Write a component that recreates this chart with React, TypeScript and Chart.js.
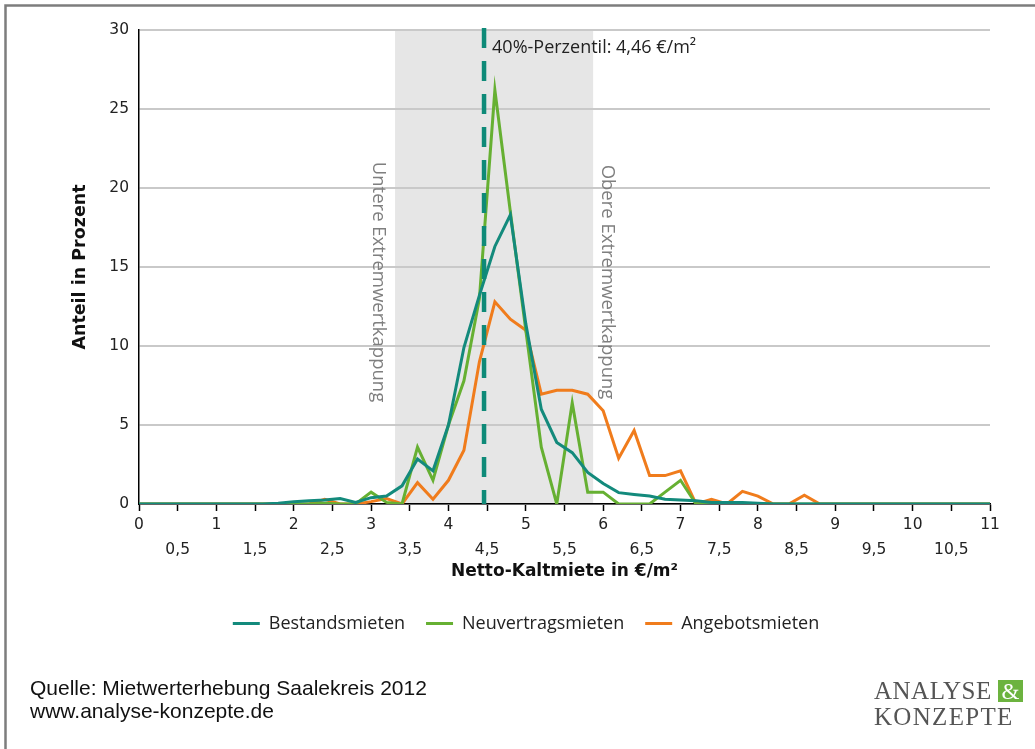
import React, { useEffect, useRef } from 'react';
import { Chart, registerables } from 'chart.js';

Chart.register(...registerables);

// Net cold rent in €/m² (bin positions)
const rentSteps = [
  0, 0.2, 0.4, 0.6, 0.8, 1, 1.2, 1.4, 1.6, 1.8,
  2, 2.2, 2.4, 2.6, 2.8, 3, 3.2, 3.4, 3.6, 3.8,
  4, 4.2, 4.4, 4.6, 4.8, 5, 5.2, 5.4, 5.6, 5.8,
  6, 6.2, 6.4, 6.6, 6.8, 7, 7.2, 7.4, 7.6, 7.8,
  8, 8.2, 8.4, 8.6, 8.8, 9, 9.2, 9.4, 9.6, 9.8,
  10, 10.2, 10.4, 10.6, 10.8, 11,
];

const bestandsmieten = [
  0, 0, 0, 0, 0, 0, 0, 0, 0, 0.05,
  0.15, 0.2, 0.25, 0.35, 0.1, 0.4, 0.5, 1.15, 2.85, 2.1,
  5.0, 9.9, 13.2, 16.3, 18.3, 11.4, 6.0, 3.9, 3.25, 2.0,
  1.3, 0.72, 0.6, 0.5, 0.3, 0.25, 0.2, 0.1, 0.1, 0.1,
  0.05, 0, 0, 0, 0, 0, 0, 0, 0, 0,
  0, 0, 0, 0, 0, 0,
];

const neuvertragsmieten = [
  0, 0, 0, 0, 0, 0, 0, 0, 0, 0,
  0, 0, 0.05, 0, 0, 0.75, 0.1, 0, 3.6, 1.5,
  5.0, 7.8, 13.0, 26.2, 18.5, 11.0, 3.6, 0, 6.4, 0.75,
  0.75, 0, 0, 0, 0.75, 1.5, 0, 0, 0, 0,
  0, 0, 0, 0, 0, 0, 0, 0, 0, 0,
  0, 0, 0, 0, 0, 0,
];

const angebotsmieten = [
  0, 0, 0, 0, 0, 0, 0, 0, 0, 0,
  0, 0, 0.3, 0, 0, 0.15, 0.35, 0, 1.35, 0.3,
  1.5, 3.4, 9.0, 12.8, 11.7, 11.0, 6.95, 7.2, 7.2, 6.95,
  5.9, 2.9, 4.65, 1.8, 1.8, 2.1, 0, 0.3, 0, 0.8,
  0.5, 0, 0, 0.55, 0, 0, 0, 0, 0, 0,
  0, 0, 0, 0, 0, 0,
];

const seriesNames = ['Bestandsmieten', 'Neuvertragsmieten', 'Angebotsmieten'];
const seriesColors = ['#138a7c', '#66b032', '#f07c1c'];

const extremeBand = [3.31, 5.87];
const percentile40 = 4.46;
const percentileLabel = '40%-Perzentil: 4,46 €/m²';
const lowerLabel = 'Untere Extremwertkappung';
const upperLabel = 'Obere Extremwertkappung';

const xRange = [0, 11];
const xStep = 0.5;
const yRange = [0, 30];
const yStep = 5;

const xTitle = 'Netto-Kaltmiete in €/m²';
const yTitle = 'Anteil in Prozent';
const sourceLines = ['Quelle: Mietwerterhebung Saalekreis 2012', 'www.analyse-konzepte.de'];

const decorPlugin = {
  id: 'decor',
  beforeDraw(chart: any) {
    const { ctx, chartArea, scales } = chart;
    const x = scales.x;
    const l = x.getPixelForValue(extremeBand[0]);
    const r = x.getPixelForValue(extremeBand[1]);
    ctx.save();
    ctx.fillStyle = '#e6e6e6';
    ctx.fillRect(l, chartArea.top, r - l, chartArea.bottom - chartArea.top);
    ctx.restore();
  },
  beforeDatasetsDraw(chart: any) {
    const { ctx, chartArea, scales } = chart;
    const x = scales.x;
    const l = x.getPixelForValue(extremeBand[0]);
    const r = x.getPixelForValue(extremeBand[1]);
    const cy = chartArea.top + 252;
    ctx.save();
    ctx.fillStyle = '#7f7f7f';
    ctx.font = '18.5px "Open Sans"';
    ctx.textAlign = 'center';
    ctx.textBaseline = 'middle';
    ctx.translate(l - 17, cy);
    ctx.rotate(Math.PI / 2);
    ctx.fillText(lowerLabel, 0, 0);
    ctx.restore();
    ctx.save();
    ctx.fillStyle = '#7f7f7f';
    ctx.font = '18.5px "Open Sans"';
    ctx.textAlign = 'center';
    ctx.textBaseline = 'middle';
    ctx.translate(r + 14, cy);
    ctx.rotate(Math.PI / 2);
    ctx.fillText(upperLabel, 0, 0);
    ctx.restore();
  },
  afterDatasetsDraw(chart: any) {
    const { ctx, chartArea, scales } = chart;
    const px = scales.x.getPixelForValue(percentile40);
    ctx.save();
    ctx.strokeStyle = '#0e8a78';
    ctx.lineWidth = 4.5;
    ctx.setLineDash([20, 13]);
    ctx.beginPath();
    ctx.moveTo(px, chartArea.top - 2);
    ctx.lineTo(px, chartArea.bottom);
    ctx.stroke();
    ctx.setLineDash([]);
    ctx.fillStyle = '#222';
    ctx.font = '18px "Open Sans"';
    ctx.textAlign = 'left';
    ctx.textBaseline = 'alphabetic';
    ctx.fillText(percentileLabel, px + 8, chartArea.top + 23);
    ctx.restore();
  },
  afterDraw(chart: any) {
    const { ctx } = chart;
    ctx.save();
    // source text
    ctx.fillStyle = '#111';
    ctx.font = '21px "Liberation Sans"';
    ctx.textAlign = 'left';
    ctx.textBaseline = 'alphabetic';
    ctx.fillText(sourceLines[0], 30, 695);
    ctx.fillText(sourceLines[1], 30, 718);
    // logo
    ctx.fillStyle = '#555';
    ctx.font = '25px "Liberation Serif"';
    (ctx as any).letterSpacing = '0.5px';
    ctx.fillText('ANALYSE', 874, 699);
    (ctx as any).letterSpacing = '1.3px';
    ctx.fillText('KONZEPTE', 874, 725);
    (ctx as any).letterSpacing = '0px';
    ctx.fillStyle = '#6cb33f';
    ctx.fillRect(998, 680, 25, 22);
    ctx.fillStyle = '#fff';
    ctx.font = '23px "Liberation Serif"';
    ctx.textAlign = 'center';
    ctx.fillText('&', 1010.5, 699);
    // frame
    ctx.strokeStyle = '#7d7d7d';
    ctx.lineWidth = 2.5;
    ctx.beginPath();
    ctx.moveTo(1035, 5.5);
    ctx.lineTo(5.5, 5.5);
    ctx.lineTo(5.5, 749);
    ctx.stroke();
    ctx.restore();
  },
};

function fmt(v: number) {
  return String(v).replace('.', ',');
}

export default function App() {
  const canvasRef = useRef<HTMLCanvasElement | null>(null);

  useEffect(() => {
    document.body.style.margin = '0';
    const canvas = canvasRef.current;
    if (!canvas) return;
    const seriesData = [bestandsmieten, neuvertragsmieten, angebotsmieten];
    const chart = new Chart(canvas, {
      type: 'line',
      data: {
        datasets: seriesData.map((vals, i) => ({
          label: seriesNames[i],
          data: rentSteps.map((x, j) => ({ x, y: vals[j] })),
          borderColor: seriesColors[i],
          backgroundColor: seriesColors[i],
          borderWidth: 3,
          pointRadius: 0,
          pointHoverRadius: 0,
          tension: 0,
          fill: false,
          pointStyle: 'line',
        })),
      },
      options: {
        responsive: false,
        animation: false,
        events: [],
        layout: { padding: { left: 62, right: 45, top: 30, bottom: 106.5 } },
        plugins: {
          tooltip: { enabled: false },
          legend: {
            position: 'bottom',
            labels: {
              usePointStyle: true,
              pointStyle: 'line',
              pointStyleWidth: 27,
              padding: 21,
              color: '#222',
              font: { family: '"Open Sans"', size: 18 },
            },
          },
        },
        scales: {
          x: {
            type: 'linear',
            min: xRange[0],
            max: xRange[1],
            afterFit(scale: any) {
              scale.height = 89.5;
            },
            ticks: {
              stepSize: xStep,
              autoSkip: false,
              maxRotation: 0,
              padding: 1.5,
              color: '#222',
              font: { family: '"DejaVu Sans"', size: 15.5, lineHeight: 1.62 },
              callback: (v: any) => {
                const n = Number(v);
                return Number.isInteger(n) ? fmt(n) : ['', fmt(n)];
              },
            },
            grid: {
              drawOnChartArea: false,
              drawTicks: true,
              tickLength: 7,
              color: '#000',
              tickWidth: 1.5,
            },
            border: { display: true, color: '#000', width: 1.5 },
            title: {
              display: true,
              text: xTitle,
              color: '#111',
              font: { family: '"DejaVu Sans"', size: 17, weight: 'bold' },
              padding: { top: 0, bottom: 11.3 },
            },
          },
          y: {
            min: yRange[0],
            max: yRange[1],
            afterFit(scale: any) {
              scale.width = 77;
            },
            ticks: {
              stepSize: yStep,
              padding: 10,
              color: '#222',
              font: { family: '"DejaVu Sans"', size: 15.5 },
            },
            grid: {
              drawTicks: false,
              color: '#c9c9c9',
              lineWidth: 2,
            },
            border: { display: true, color: '#000', width: 1.5 },
            title: {
              display: true,
              text: yTitle,
              color: '#111',
              font: { family: '"DejaVu Sans"', size: 17.5, weight: 'bold' },
              padding: { top: 7.5, bottom: 0 },
            },
          },
        },
      },
      plugins: [decorPlugin],
    } as any);
    return () => chart.destroy();
  }, []);

  return (
    <div style={{ width: 1035, height: 749, background: '#fff' }}>
      <canvas ref={canvasRef} width={1035} height={749} style={{ display: 'block' }} />
    </div>
  );
}
